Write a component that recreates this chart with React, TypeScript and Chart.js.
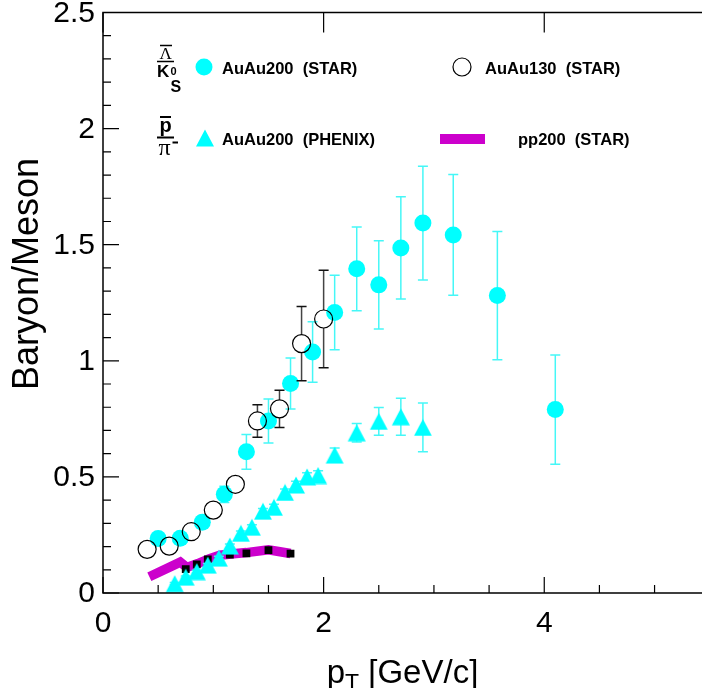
import React, { useEffect, useRef } from 'react';
import { Chart, registerables } from 'chart.js';

Chart.register(...registerables);

// ---- Data ----
// Lambda-bar / K0s, AuAu200 (STAR)
const lkAu200Pt = [0.5, 0.7, 0.9, 1.1, 1.3, 1.5, 1.7, 1.9, 2.1, 2.3, 2.5, 2.7, 2.9, 3.175, 3.575, 4.1];
const lkAu200Val = [0.235, 0.236, 0.305, 0.425, 0.608, 0.741, 0.902, 1.038, 1.208, 1.396, 1.327, 1.486, 1.593, 1.542, 1.281, 0.79];
const lkAu200Err = [0.02, 0.02, 0.025, 0.035, 0.075, 0.095, 0.11, 0.13, 0.16, 0.18, 0.19, 0.22, 0.245, 0.26, 0.276, 0.235];

// Lambda-bar / K0s, AuAu130 (STAR)
const lkAu130Pt = [0.4, 0.6, 0.8, 1.0, 1.2, 1.4, 1.6, 1.8, 2.0];
const lkAu130Val = [0.188, 0.202, 0.264, 0.357, 0.468, 0.741, 0.793, 1.074, 1.18];
const lkAu130Err = [0.01, 0.01, 0.015, 0.02, 0.03, 0.07, 0.08, 0.16, 0.21];

// p-bar / pi-, AuAu200 (PHENIX)
const ppiPhenixPt = [0.65, 0.75, 0.85, 0.95, 1.05, 1.15, 1.25, 1.35, 1.45, 1.55, 1.65, 1.75, 1.85, 1.95, 2.1, 2.3, 2.5, 2.7, 2.9];
const ppiPhenixVal = [0.04, 0.068, 0.092, 0.12, 0.15, 0.202, 0.257, 0.283, 0.352, 0.369, 0.433, 0.465, 0.5, 0.506, 0.594, 0.69, 0.739, 0.759, 0.713];
const ppiPhenixErr = [0.005, 0.005, 0.006, 0.007, 0.008, 0.009, 0.01, 0.011, 0.012, 0.013, 0.015, 0.016, 0.018, 0.02, 0.03, 0.04, 0.06, 0.08, 0.105];

// Lambda-bar / K0s, pp200 (STAR) band and points
const ppBandPt = [0.42, 0.7, 0.76, 0.86, 0.96, 1.06, 1.16, 1.3, 1.5, 1.7];
const ppBandVal = [0.07, 0.133, 0.11, 0.127, 0.147, 0.163, 0.168, 0.174, 0.186, 0.17];
const ppPointPt = [0.75, 0.85, 0.95, 1.15, 1.3, 1.5, 1.7];
const ppPointVal = [0.103, 0.123, 0.145, 0.165, 0.171, 0.185, 0.17];

// Axis ticks
const xMajorTicks = [0, 2, 4];
const xMinorTicks = [0.5, 1, 1.5, 2.5, 3, 3.5, 4.5, 5];
const yMajorTicks = [0, 0.5, 1, 1.5, 2, 2.5];
const xTickLabels = ['0', '2', '4'];
const yTickLabels = ['0', '0.5', '1', '1.5', '2', '2.5'];

const FONT = '"Liberation Sans", Arial, Helvetica, sans-serif';
const SERIF = '"Liberation Serif", "DejaVu Serif", serif';
const CYAN = '#00ffff';
const CYAN_ERR = '#45f7f7';
const MAGENTA = '#cc00cc';

const toXY = (xs: number[], ys: number[]) => xs.map((x, i) => ({ x, y: ys[i] }));

function makeTriangle(): HTMLCanvasElement {
  const c = document.createElement('canvas');
  c.width = 20;
  c.height = 18;
  const g = c.getContext('2d')!;
  g.fillStyle = CYAN;
  g.beginPath();
  g.moveTo(1.0, 17.4);
  g.lineTo(19.0, 17.4);
  g.lineTo(10, 0.6);
  g.closePath();
  g.fill();
  return c;
}

const overlayPlugin = {
  id: 'rootStyle',
  beforeDatasetDraw(chart: any, args: any) {
    const ds = chart.data.datasets[args.index];
    if (!ds.errors) return;
    const meta = chart.getDatasetMeta(args.index);
    const ys = chart.scales.y;
    const ctx: CanvasRenderingContext2D = chart.ctx;
    ctx.save();
    ctx.lineWidth = 1.5;
    const gap = ds.errorGap || 0;
    meta.data.forEach((pt: any, i: number) => {
      const e = ds.errors[i];
      if (!e) return;
      const v = ds.data[i].y;
      const top = ys.getPixelForValue(v + e);
      const bot = ys.getPixelForValue(v - e);
      const x = pt.x;
      const y = pt.y;
      ctx.strokeStyle = ds.errorColor;
      ctx.beginPath();
      if (gap > 0) {
        if (y - gap > top) {
          ctx.moveTo(x, top);
          ctx.lineTo(x, y - gap);
        }
        if (y + gap < bot) {
          ctx.moveTo(x, y + gap);
          ctx.lineTo(x, bot);
        }
      } else {
        ctx.moveTo(x, top);
        ctx.lineTo(x, bot);
      }
      ctx.stroke();
      ctx.strokeStyle = ds.capColor || ds.errorColor;
      ctx.beginPath();
      if (y - gap > top) {
        ctx.moveTo(x - 5, top);
        ctx.lineTo(x + 5, top);
      }
      if (y + gap < bot) {
        ctx.moveTo(x - 5, bot);
        ctx.lineTo(x + 5, bot);
      }
      ctx.stroke();
    });
    ctx.restore();
  },
  afterDraw(chart: any) {
    const ctx: CanvasRenderingContext2D = chart.ctx;
    const xs = chart.scales.x;
    const ys = chart.scales.y;
    const a = chart.chartArea;
    ctx.save();
    // frame
    ctx.strokeStyle = '#000';
    ctx.lineWidth = 1.5;
    ctx.beginPath();
    ctx.moveTo(a.right + 2, a.top);
    ctx.lineTo(a.left, a.top);
    ctx.lineTo(a.left, a.bottom);
    ctx.lineTo(a.right + 2, a.bottom);
    ctx.stroke();
    // ticks
    ctx.lineWidth = 1.2;
    ctx.beginPath();
    xMajorTicks.forEach((v) => {
      const px = xs.getPixelForValue(v);
      ctx.moveTo(px, a.bottom);
      ctx.lineTo(px, a.bottom - 16);
      ctx.moveTo(px, a.top);
      ctx.lineTo(px, a.top + 20);
    });
    xMinorTicks.forEach((v) => {
      const px = xs.getPixelForValue(v);
      ctx.moveTo(px, a.bottom);
      ctx.lineTo(px, a.bottom - 8);
    });
    for (let k = 0; k <= 25; k++) {
      const v = k / 10;
      const py = ys.getPixelForValue(v);
      const len = k % 5 === 0 ? 16 : 8;
      ctx.moveTo(a.left, py);
      ctx.lineTo(a.left + len, py);
    }
    ctx.stroke();
    // tick labels
    ctx.fillStyle = '#000';
    ctx.font = `30px ${FONT}`;
    ctx.textAlign = 'center';
    ctx.textBaseline = 'alphabetic';
    xMajorTicks.forEach((v, i) => {
      ctx.fillText(xTickLabels[i], xs.getPixelForValue(v), 632);
    });
    ctx.textAlign = 'right';
    ctx.textBaseline = 'middle';
    yMajorTicks.forEach((v, i) => {
      ctx.fillText(yTickLabels[i], a.left - 8, ys.getPixelForValue(v) + 1);
    });
    // x title
    ctx.textBaseline = 'alphabetic';
    ctx.textAlign = 'left';
    ctx.font = `33px ${FONT}`;
    const wP = ctx.measureText('p').width;
    const wRest = ctx.measureText(' [GeV/c]').width;
    ctx.font = `23px ${FONT}`;
    const wT = ctx.measureText('T').width;
    const total = wP + wT + wRest;
    const sx = 402.5 - total / 2;
    ctx.font = `33px ${FONT}`;
    ctx.fillText('p', sx, 683);
    ctx.font = `23px ${FONT}`;
    ctx.fillText('T', sx + wP, 691);
    ctx.font = `33px ${FONT}`;
    ctx.fillText(' [GeV/c]', sx + wP + wT, 683);
    // y title
    ctx.save();
    ctx.translate(38, 274);
    ctx.rotate(-Math.PI / 2);
    ctx.textAlign = 'center';
    ctx.font = `36px ${FONT}`;
    ctx.fillText('Baryon/Meson', 0, 0);
    ctx.restore();

    // legend labels: Lambda-bar / K0s
    ctx.textAlign = 'left';
    ctx.textBaseline = 'alphabetic';
    ctx.lineWidth = 1.6;
    ctx.font = `17px ${SERIF}`;
    ctx.fillText('\u039B', 159.5, 58.5);
    ctx.beginPath();
    ctx.moveTo(160, 45.5);
    ctx.lineTo(172, 45.5);
    ctx.moveTo(157, 61.5);
    ctx.lineTo(174, 61.5);
    ctx.stroke();
    ctx.font = `bold 17px ${FONT}`;
    ctx.fillText('K', 157, 77);
    ctx.font = `bold 11px ${FONT}`;
    ctx.fillText('0', 170.5, 75);
    ctx.font = `bold 16px ${FONT}`;
    ctx.fillText('S', 170.5, 91.5);
    // p-bar / pi-
    ctx.font = `bold 20px ${FONT}`;
    ctx.fillText('p', 159.5, 131.5);
    ctx.lineWidth = 2;
    ctx.beginPath();
    ctx.moveTo(160, 117);
    ctx.lineTo(171, 117);
    ctx.moveTo(157, 137.5);
    ctx.lineTo(174, 137.5);
    ctx.moveTo(172.5, 142.5);
    ctx.lineTo(178, 142.5);
    ctx.stroke();
    ctx.font = `24px ${SERIF}`;
    ctx.fillText('\u03C0', 158.5, 155);

    // legend markers and entries
    ctx.fillStyle = CYAN;
    ctx.beginPath();
    ctx.arc(204, 67, 8.5, 0, Math.PI * 2);
    ctx.fill();
    ctx.strokeStyle = '#000';
    ctx.lineWidth = 1.2;
    ctx.beginPath();
    ctx.arc(462, 67, 9, 0, Math.PI * 2);
    ctx.stroke();
    ctx.fillStyle = CYAN;
    ctx.beginPath();
    ctx.moveTo(196, 146.4);
    ctx.lineTo(214, 146.4);
    ctx.lineTo(205, 129.6);
    ctx.closePath();
    ctx.fill();
    ctx.fillStyle = MAGENTA;
    ctx.fillRect(440, 134, 45, 10);

    ctx.fillStyle = '#000';
    ctx.font = `bold 16.5px ${FONT}`;
    ctx.fillText('AuAu200  (STAR)', 222, 73.5);
    ctx.fillText('AuAu130  (STAR)', 485, 73.5);
    ctx.fillText('AuAu200  (PHENIX)', 222, 145);
    ctx.fillText('pp200  (STAR)', 518, 145);
    ctx.restore();
  },
};

export default function App() {
  const ref = useRef<HTMLCanvasElement>(null);
  useEffect(() => {
    const canvas = ref.current;
    if (!canvas) return;
    const tri = makeTriangle();
    const chart = new Chart(canvas, {
      type: 'scatter',
      data: {
        datasets: [
          {
            label: 'AuAu130 (STAR)',
            data: toXY(lkAu130Pt, lkAu130Val),
            pointStyle: 'circle',
            pointRadius: 9,
            pointBorderWidth: 1.2,
            pointBorderColor: '#000',
            pointBackgroundColor: 'rgba(0,0,0,0)',
            order: 0,
            errors: lkAu130Err,
            errorColor: '#444',
            capColor: '#111',
            errorGap: 9,
          } as any,
          {
            label: 'AuAu200 (STAR)',
            data: toXY(lkAu200Pt, lkAu200Val),
            pointStyle: 'circle',
            pointRadius: 8.5,
            pointBorderWidth: 0,
            pointBackgroundColor: CYAN,
            pointBorderColor: CYAN,
            order: 1,
            errors: lkAu200Err,
            errorColor: CYAN_ERR,
          } as any,
          {
            label: 'AuAu200 (PHENIX)',
            data: toXY(ppiPhenixPt, ppiPhenixVal),
            pointStyle: tri,
            pointRadius: 9,
            order: 2,
            errors: ppiPhenixErr,
            errorColor: CYAN_ERR,
          } as any,
          {
            label: 'pp200 (STAR) points',
            data: toXY(ppPointPt, ppPointVal),
            pointStyle: 'rect',
            pointRadius: 5.5,
            pointBorderWidth: 0,
            pointBackgroundColor: '#000',
            pointBorderColor: '#000',
            order: 3,
          } as any,
          {
            label: 'pp200 (STAR)',
            data: toXY(ppBandPt, ppBandVal),
            showLine: true,
            borderColor: MAGENTA,
            borderWidth: 9.5,
            borderCapStyle: 'butt',
            borderJoinStyle: 'miter',
            pointRadius: 0,
            tension: 0,
            order: 4,
          } as any,
        ],
      },
      options: {
        animation: false,
        responsive: true,
        maintainAspectRatio: false,
        events: [],
        layout: { autoPadding: false, padding: { left: 103, top: 12.5, right: 0, bottom: 95 } },
        plugins: { legend: { display: false }, tooltip: { enabled: false }, title: { display: false } },
        scales: {
          x: { type: 'linear', min: 0, max: 5.43, display: false },
          y: { type: 'linear', min: 0, max: 2.5, display: false },
        },
      },
      plugins: [overlayPlugin as any],
    });
    return () => chart.destroy();
  }, []);
  return (
    <div style={{ position: 'absolute', left: 0, top: 0, width: 702, height: 688, background: '#fff' }}>
      <canvas ref={ref} />
    </div>
  );
}
